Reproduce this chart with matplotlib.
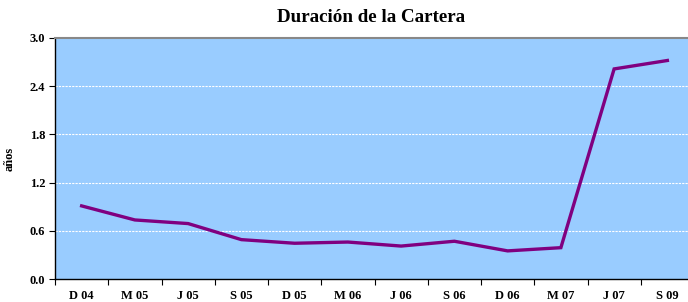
import numpy as np
import matplotlib.pyplot as plt

plt.rcParams['font.family'] = ['Liberation Serif', 'DejaVu Serif']
plt.rcParams['font.weight'] = 'bold'

labels = ['D 04', 'M 05', 'J 05', 'S 05', 'D 05', 'M 06', 'J 06', 'S 06',
          'D 06', 'M 07', 'J 07', 'S 09']
duracion = [0.91, 0.735, 0.69, 0.49, 0.445, 0.46, 0.41, 0.47, 0.35, 0.39, 2.615, 2.72]
yticks = [0.0, 0.6, 1.2, 1.8, 2.4, 3.0]

W, H = 688, 302
fig = plt.figure(figsize=(W / 100, H / 100), dpi=100)
# plot area runs slightly past the right edge in the original
ax = fig.add_axes([55 / W, (H - 279) / H, 639 / W, 241 / H])
ax.set_facecolor('#99CCFF')

x = np.arange(len(labels))
ax.plot(x, duracion, color='#800080', lw=2.4, solid_joinstyle='miter', zorder=3)

ax.set_xlim(-0.5, len(labels) - 0.5)
ax.set_ylim(0, 3.0)
ax.set_yticks(yticks)
ax.set_yticklabels([f'{v:.1f}' for v in yticks], fontsize=9, fontweight='bold')
ax.set_xticks(x)
ax.set_xticklabels(labels, fontsize=9, fontweight='bold')
ax.set_xticks(np.arange(len(labels) + 1) - 0.5, minor=True)
ax.tick_params(axis='x', which='major', length=0, pad=8)
ax.tick_params(axis='x', which='minor', length=4, width=0.8, direction='out')
ax.tick_params(axis='y', length=4, width=0.8, direction='out', pad=3)

for v in yticks[1:-1]:
    ax.axhline(v, color='white', lw=0.8, ls=(0, (2, 1)), zorder=1)

for s in ['left', 'bottom']:
    ax.spines[s].set_color('black')
    ax.spines[s].set_linewidth(1.0)
ax.spines['top'].set_color('#888888')
ax.spines['top'].set_linewidth(1.5)
ax.spines['right'].set_visible(False)

ax.set_ylabel('años', fontsize=9, fontweight='bold', labelpad=10)
fig.text(371 / W, 1 - 17 / H, 'Duración de la Cartera', ha='center', va='center',
         fontsize=13.7, fontweight='bold')

fig.savefig('out.png', dpi=100)
